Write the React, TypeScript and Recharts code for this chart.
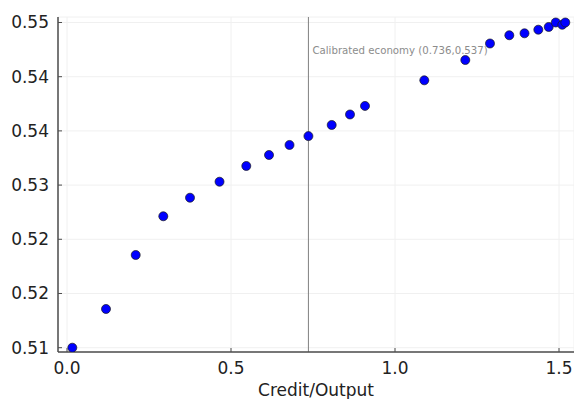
import React from 'react';
import { ScatterChart, Scatter, XAxis, YAxis, CartesianGrid, ReferenceLine } from 'recharts';

const creditOutput = [
  0.0162, 0.1189, 0.2095, 0.2936, 0.375, 0.465, 0.5466, 0.6159, 0.6784, 0.736,
  0.807, 0.8628, 0.9085, 1.0893, 1.2143, 1.2896, 1.3485, 1.3948, 1.4369, 1.4686,
  1.49, 1.51, 1.5192,
];
const welfare = [
  0.51, 0.51494, 0.52183, 0.52677, 0.52914, 0.53118, 0.53319, 0.53459, 0.53587, 0.537,
  0.53842, 0.53976, 0.54085, 0.54412, 0.54671, 0.54882, 0.54987, 0.55012, 0.55058, 0.55093,
  0.5515, 0.55121, 0.5515,
];
const xTicks = [0, 0.5, 1.0, 1.5];
const xTickLabels = ['0.0', '0.5', '1.0', '1.5'];
const yTicks = [0.51, 0.516917, 0.523833, 0.53075, 0.537667, 0.544583, 0.5515];
const yTickLabels = ['0.51', '0.52', '0.52', '0.53', '0.54', '0.54', '0.55'];
const calibrated = { x: 0.736, y: 0.537, label: 'Calibrated economy (0.736,0.537)' };

const data = creditOutput.map((x, i) => ({ x, y: welfare[i] }));

const FONT = 'DejaVu Sans';
const AXIS = '#4d4d4d';

const XTick = (props: any) => {
  const { x, y, payload } = props;
  const i = xTicks.indexOf(payload.value);
  return (
    <g>
      <line x1={x} x2={x} y1={y} y2={y - 4} stroke={AXIS} strokeWidth={1} />
      <text x={x} y={y + 22} textAnchor="middle" fontFamily={FONT} fontSize={17} fill="#222">
        {i >= 0 ? xTickLabels[i] : ''}
      </text>
    </g>
  );
};

const YTick = (props: any) => {
  const { x, y, payload, index } = props;
  return (
    <g>
      <line x1={x} x2={x + 4} y1={y} y2={y} stroke={AXIS} strokeWidth={1} />
      <text x={x - 9} y={y + 6} textAnchor="end" fontFamily={FONT} fontSize={17} fill="#222">
        {yTickLabels[index] ?? payload.value}
      </text>
    </g>
  );
};

const Dot = (props: any) => (
  <circle cx={props.cx} cy={props.cy} r={4.5} fill="#0000ff" stroke="#1a1a1a" strokeWidth={0.7} />
);

export default function App() {
  return (
    <div style={{ position: 'absolute', left: 0, top: 0, background: '#fff' }}>
      <ScatterChart width={574} height={399} margin={{ top: 17, right: 0, bottom: 0, left: 0 }}>
        <CartesianGrid stroke="#f0f0f0" strokeWidth={1} />
        <XAxis
          type="number"
          dataKey="x"
          domain={[-0.02744, 1.5457]}
          allowDataOverflow
          ticks={xTicks}
          tick={<XTick />}
          tickSize={0}
          tickMargin={0}
          tickLine={false}
          height={47}
          axisLine={{ stroke: AXIS, strokeWidth: 1.5 }}
          label={{ value: 'Credit/Output', position: 'insideBottom', offset: 3, fontFamily: FONT, fontSize: 17, fill: '#222' }}
        />
        <YAxis
          type="number"
          dataKey="y"
          domain={[0.50945, 0.5522]}
          allowDataOverflow
          ticks={yTicks}
          tick={<YTick />}
          tickSize={0}
          tickMargin={0}
          tickLine={false}
          width={58}
          interval={0}
          axisLine={{ stroke: AXIS, strokeWidth: 1.5 }}
        />
        <ReferenceLine
          x={calibrated.x}
          stroke="#808080"
          strokeWidth={1}
          label={(p: any) => (
            <text
              x={p.viewBox.x + 4}
              y={p.viewBox.y + 37}
              fontFamily={FONT}
              fontSize={10.2}
              fill="#8c8c8c"
            >
              {calibrated.label}
            </text>
          )}
        />
        <Scatter data={data} shape={<Dot />} isAnimationActive={false} />
      </ScatterChart>
    </div>
  );
}
